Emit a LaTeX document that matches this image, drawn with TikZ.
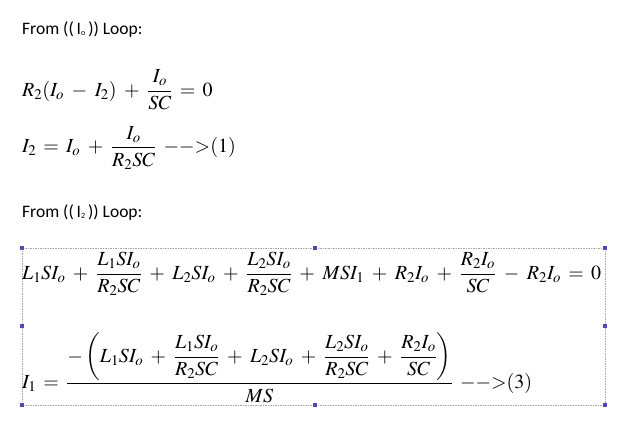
\documentclass[tikz,border=0pt]{standalone}
\usepackage{amsmath}
\usepackage{mathptmx}
\usepackage{fontspec}
\newfontfamily\calfnt{Carlito}
\newcommand\myeqfont{\fontsize{20}{24}\selectfont\medmuskip 6.8mu\relax\thickmuskip 6.5mu\relax}
\tikzset{hdr/.style={anchor=west,inner sep=0pt,font=\calfnt\fontsize{17.5}{20}\selectfont},
 eq/.style={anchor=west,inner sep=0pt,font=\myeqfont},
 handle/.style={fill=blue!40!gray,minimum size=4pt,inner sep=0pt}}
\begin{document}
\begin{tikzpicture}[x=1pt,y=-1pt]
\useasboundingbox (0,0) rectangle (640,441);
\node[hdr] (h1) at (22,30) {From ((\,I\raisebox{-1pt}{\footnotesize o}\,)) Loop:};
\node[eq] (e1) at (22,90) {$R_2(I_o-I_2)+\dfrac{I_o}{SC}=0$};
\node[eq] (e2) at (22,148) {$I_2=I_o+\dfrac{I_o}{R_2SC}\;{-}{-}{>}(1)$};
\node[hdr] (h2) at (22,213) {From ((\,I\raisebox{-1pt}{\footnotesize 2}\,)) Loop:};
\draw[gray!70,dashed,dash pattern=on 1.5pt off 1pt] (22,248) rectangle (605,405);
\foreach \p in {(22,248),(315,248),(605,248),(22,326),(605,326),(22,405),(315,405),(605,405)} \node[handle] at \p {};
\node[eq] (e3) at (22,274) {$L_1SI_o+\dfrac{L_1SI_o}{R_2SC}+L_2SI_o+\dfrac{L_2SI_o}{R_2SC}+MSI_1+R_2I_o+\dfrac{R_2I_o}{SC}-R_2I_o=0$};
\node[eq] (e4) at (22,368) {$I_1=\dfrac{-\left(L_1SI_o+\dfrac{L_1SI_o}{R_2SC}+L_2SI_o+\dfrac{L_2SI_o}{R_2SC}+\dfrac{R_2I_o}{SC}\right)}{MS}\;{-}{-}{>}(3)$};
\end{tikzpicture}
\end{document}
